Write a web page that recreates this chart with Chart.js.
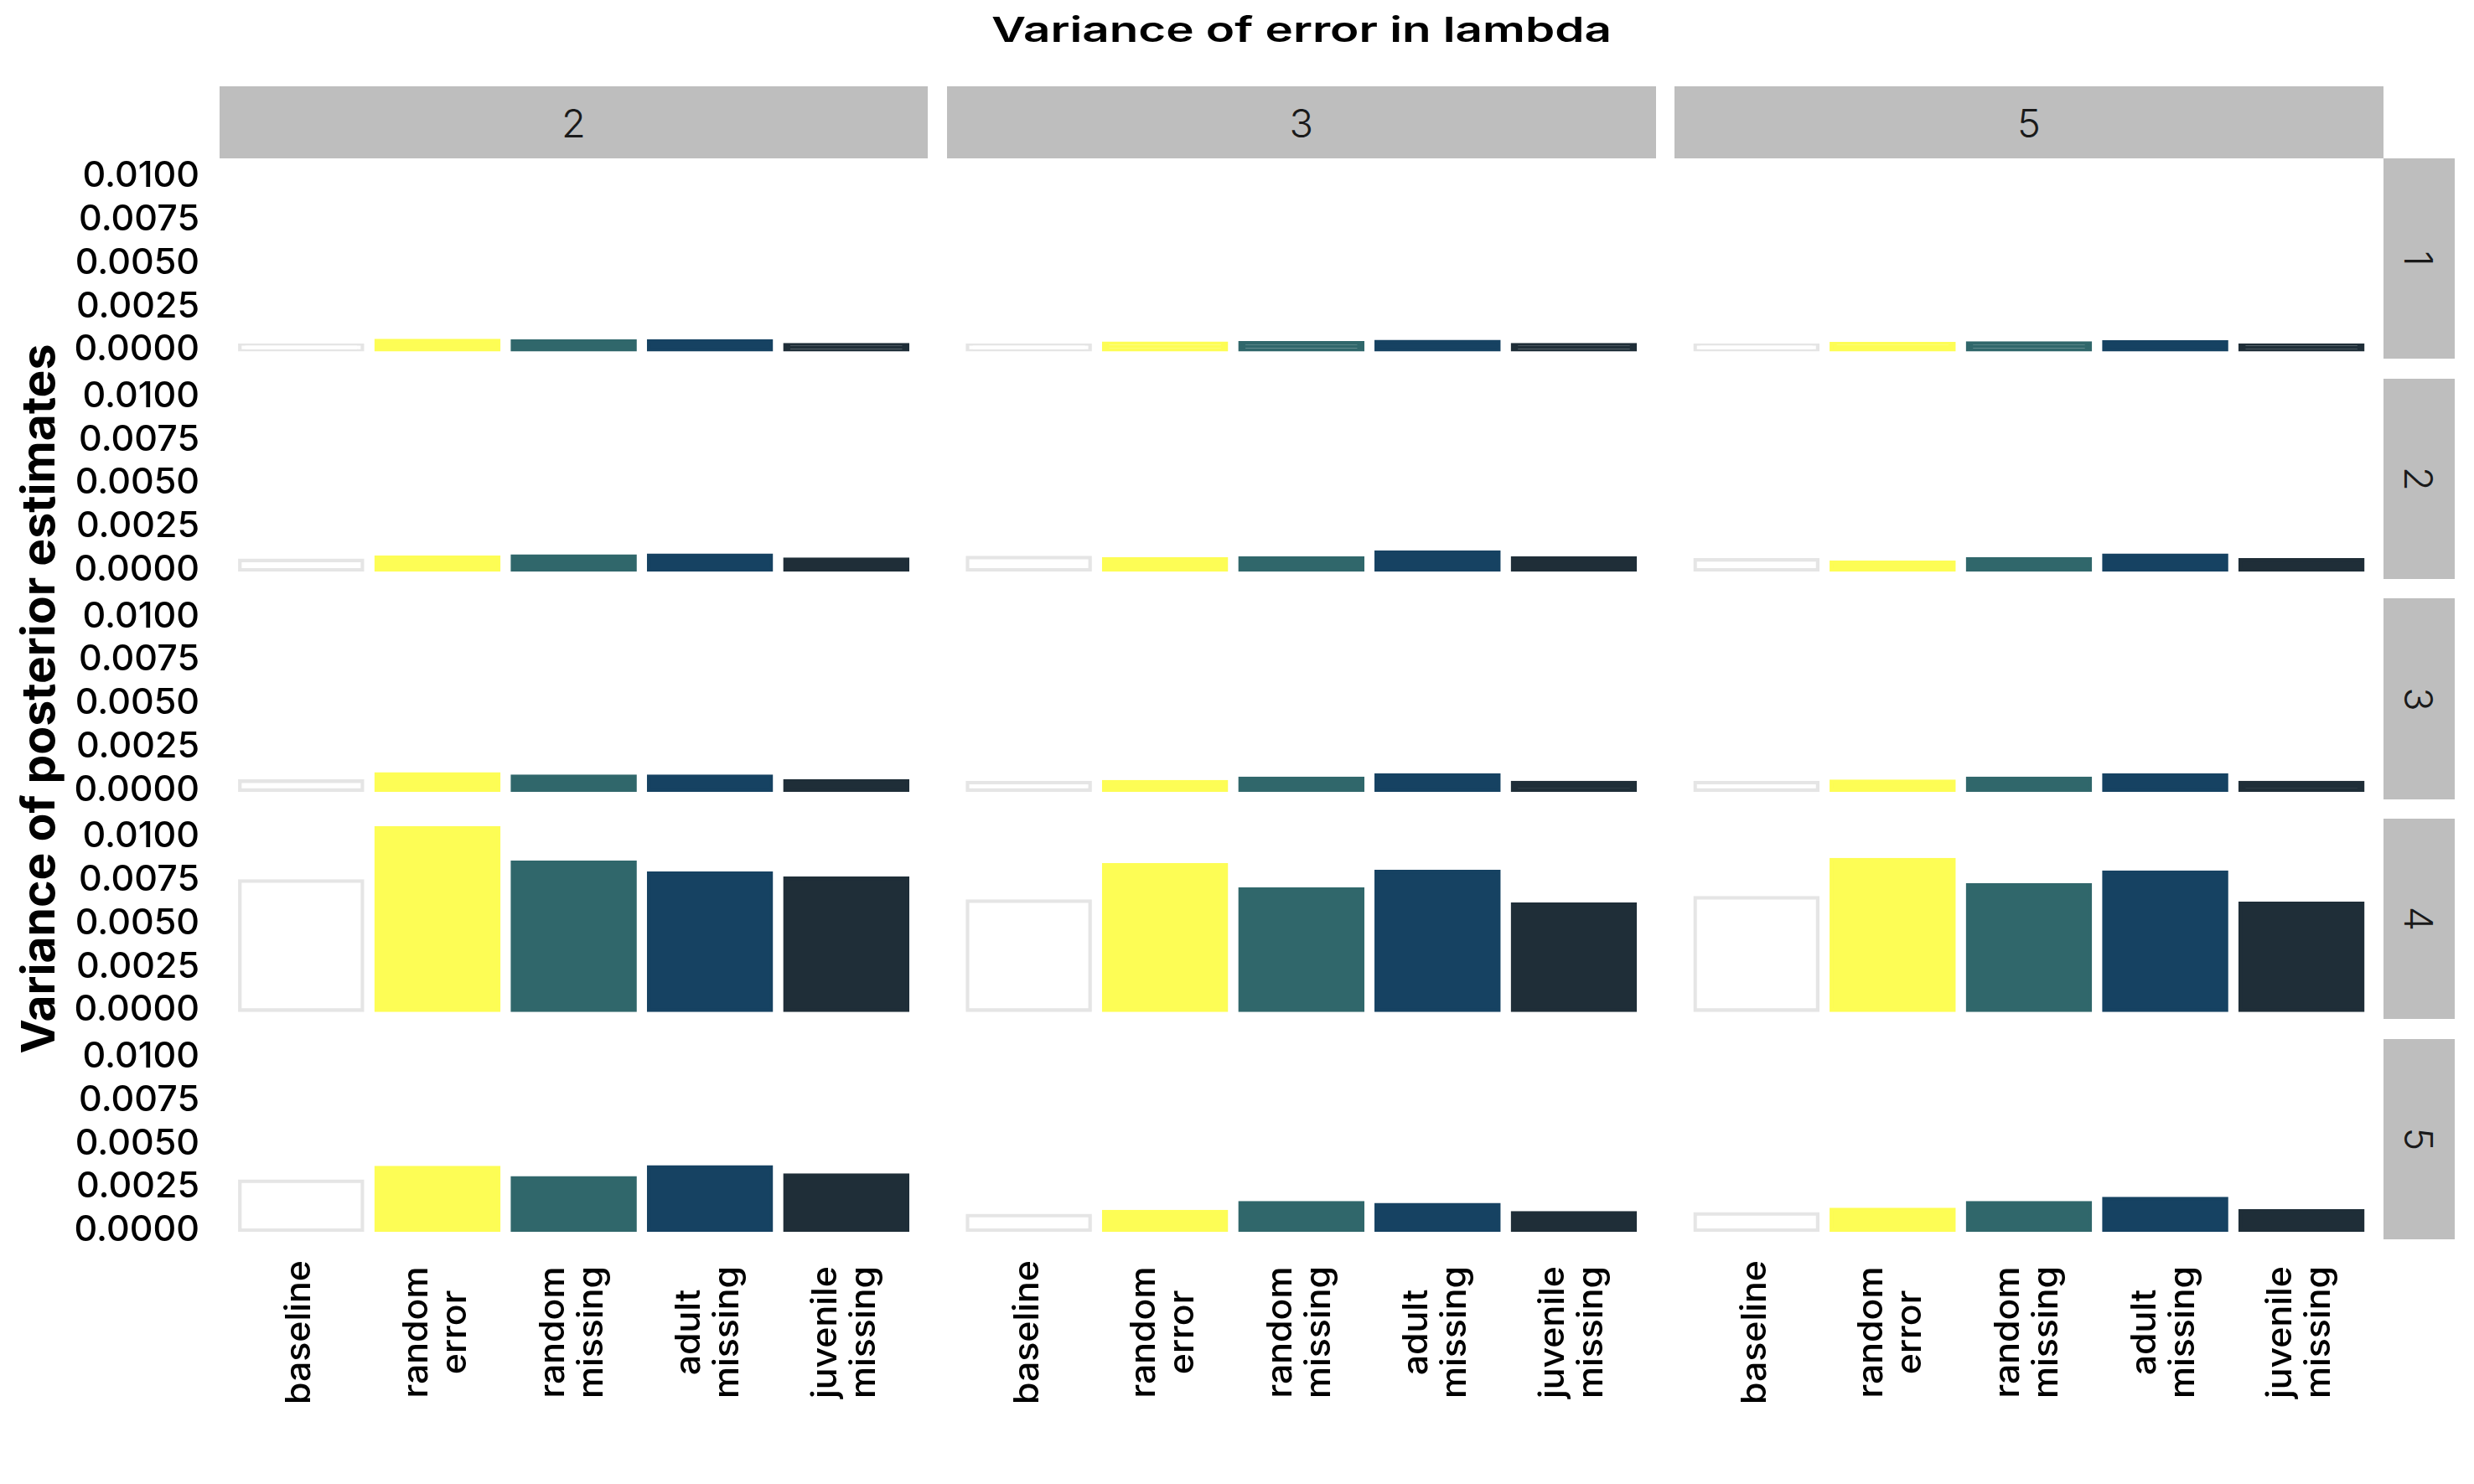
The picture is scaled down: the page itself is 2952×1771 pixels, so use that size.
<!DOCTYPE html>
<html>
<head>
<meta charset="utf-8">
<script src="https://cdn.jsdelivr.net/npm/chart.js@4/dist/chart.umd.min.js"></script>
<style>
html,body{margin:0;padding:0;background:#fff;}
#root{position:relative;width:2952px;height:1771px;overflow:hidden;background:#fff;font-family:Inter,"Noto Sans",sans-serif;}
#root canvas{position:absolute;}
.strip{position:absolute;background:#bebebe;display:flex;align-items:center;justify-content:center;color:#1a1a1a;font-weight:300;line-height:1;}
.txt{position:absolute;white-space:nowrap;line-height:1;color:#000;}
</style>
</head>
<body>
<div id="root"></div>
<script>
// ---------- data ----------
const plotTitle = 'Variance of error in lambda';
const yAxisTitle = 'Variance of posterior estimates';
const categories = ['baseline', 'random error', 'random missing', 'adult missing', 'juvenile missing'];
const categoryLabels = [['baseline'], ['random', 'error'], ['random', 'missing'], ['adult', 'missing'], ['juvenile', 'missing']];
const colFacets = ['2', '3', '5'];
const rowFacets = ['1', '2', '3', '4', '5'];
const yTicks = [0, 0.0025, 0.005, 0.0075, 0.01];

// values indexed [row facet][column facet]
const baseline = [
  [0.00027, 0.00027, 0.00027],
  [0.00055, 0.00071, 0.00058],
  [0.00051, 0.00043, 0.00043],
  [0.00744, 0.00628, 0.00647],
  [0.00283, 0.00085, 0.00095]
];
const randomError = [
  [0.00053, 0.00037, 0.00035],
  [0.00074, 0.00064, 0.00045],
  [0.00093, 0.00048, 0.00050],
  [0.01050, 0.00837, 0.00867],
  [0.00361, 0.00108, 0.00120]
];
const randomMissing = [
  [0.00050, 0.00040, 0.00039],
  [0.00079, 0.00069, 0.00064],
  [0.00079, 0.00067, 0.00067],
  [0.00851, 0.00697, 0.00721],
  [0.00302, 0.00159, 0.00159]
];
const adultMissing = [
  [0.00051, 0.00047, 0.00045],
  [0.00084, 0.00103, 0.00084],
  [0.00079, 0.00087, 0.00087],
  [0.00789, 0.00798, 0.00794],
  [0.00365, 0.00148, 0.00182]
];
const juvenileMissing = [
  [0.00029, 0.00029, 0.00027],
  [0.00061, 0.00069, 0.00058],
  [0.00053, 0.00043, 0.00043],
  [0.00760, 0.00610, 0.00615],
  [0.00318, 0.00100, 0.00111]
];
const seriesValues = [baseline, randomError, randomMissing, adultMissing, juvenileMissing];
const fillColors = ['#ffffff', '#fdfd55', '#30676b', '#164262', '#1f2e38'];
const edgeColors = ['#e5e5e5', '#fdfd55', '#30676b', '#164262', '#1f2e38'];

// ---------- layout ----------
const FONT = 'Inter, "Noto Sans", sans-serif';
const PL = 261.8, PW = 845.5, COLP = 868.2;
const PT = 189, PH = 239.3, ROWP = 262.7;
const STRIP_TOP = 103, STRIP_H = 86, RSTRIP_W = 85.6;
const LW = 4.3;
const TICK_SIZE = 43, XLAB_SIZE = 41, XLAB_LH = 46, XLAB_OFF = 11, XLAB_CY = 1590;
const ASC = 0.8633; // baseline position inside a line-height:1 box (Inter)

const root = document.getElementById('root');
const mctx = document.createElement('canvas').getContext('2d');
function measure(text, weight, size) { mctx.font = weight + ' ' + size + 'px ' + FONT; return mctx.measureText(text).width; }

Chart.defaults.font.family = FONT;

const allVals = seriesValues.flat(2);
const vMax = Math.max(...allVals);
const yMin = -0.05 * vMax, yMax = 1.05 * vMax;

const xlabScale = 172 / measure('baseline', 500, XLAB_SIZE);

function xLabelPlugin(canvasTop) {
  return {
    id: 'xlabels',
    afterDraw(chart) {
      const ctx = chart.ctx, xs = chart.scales.x;
      ctx.save();
      ctx.fillStyle = '#000';
      ctx.font = '500 ' + XLAB_SIZE + 'px ' + FONT;
      ctx.textAlign = 'center';
      ctx.textBaseline = 'alphabetic';
      const cy = XLAB_CY - canvasTop;
      categoryLabels.forEach((lines, i) => {
        const x = xs.getPixelForValue(i + 1);
        lines.forEach((ln, j) => {
          const off = XLAB_OFF + (j - (lines.length - 1) / 2) * XLAB_LH;
          ctx.save();
          ctx.translate(x + off, cy);
          ctx.rotate(-Math.PI / 2);
          ctx.scale(xlabScale, 1);
          ctx.fillText(ln, 0, 0);
          ctx.restore();
        });
      });
      ctx.restore();
    }
  };
}

function makePanel(r, c) {
  const px = PL + c * COLP, py = PT + r * ROWP;
  const left = c === 0 ? 70 : Math.floor(px) - 6;
  const top = Math.floor(py) - 6;
  const right = Math.ceil(px + PW) + 6;
  const bottom = r === rowFacets.length - 1 ? 1771 : Math.ceil(py + PH) + 6;
  const cv = document.createElement('canvas');
  cv.width = right - left; cv.height = bottom - top;
  cv.style.left = left + 'px'; cv.style.top = top + 'px';
  cv.style.width = (right - left) + 'px'; cv.style.height = (bottom - top) + 'px';
  root.appendChild(cv);
  const yAxisW = px - left;
  new Chart(cv, {
    type: 'bar',
    data: {
      datasets: [{
        data: categories.map((k, i) => ({ x: i + 1, y: seriesValues[i][r][c] })),
        backgroundColor: fillColors,
        borderColor: edgeColors,
        borderWidth: LW,
        borderSkipped: false,
        inflateAmount: LW / 2,
        categoryPercentage: 0.9,
        barPercentage: 1
      }]
    },
    options: {
      responsive: false,
      animation: false,
      devicePixelRatio: 1,
      events: [],
      layout: { padding: { left: c === 0 ? 0 : px - left, top: py - top, right: right - (px + PW), bottom: bottom - (py + PH) } },
      plugins: { legend: { display: false }, tooltip: { enabled: false }, title: { display: false } },
      scales: {
        x: {
          type: 'linear', min: 0.4, max: 5.6, offset: false, display: true,
          grid: { display: false, drawTicks: false }, border: { display: false },
          ticks: { display: false, padding: 0 },
          afterBuildTicks: s => { s.ticks = categories.map((k, i) => ({ value: i + 1 })); },
          afterFit: s => { s.height = 0; s.paddingLeft = 0; s.paddingRight = 0; }
        },
        y: {
          type: 'linear', min: yMin, max: yMax, display: c === 0,
          grid: { display: false, drawTicks: false }, border: { display: false },
          ticks: {
            autoSkip: false, color: '#000', padding: 23.8,
            font: { family: FONT, size: TICK_SIZE, weight: '500' },
            callback: v => Number(v).toFixed(4)
          },
          afterBuildTicks: s => { s.ticks = yTicks.map(v => ({ value: v })); },
          afterFit: s => { if (c === 0) s.width = yAxisW; s.paddingTop = 0; s.paddingBottom = 0; }
        }
      }
    },
    plugins: r === rowFacets.length - 1 ? [xLabelPlugin(top)] : []
  });
}

// strips
const STRIP_SIZE = 47;
colFacets.forEach((lab, c) => {
  const d = document.createElement('div');
  d.className = 'strip';
  d.style.left = (PL + c * COLP) + 'px'; d.style.top = STRIP_TOP + 'px';
  d.style.width = PW + 'px'; d.style.height = STRIP_H + 'px';
  d.style.fontSize = STRIP_SIZE + 'px';
  const s = document.createElement('span'); s.textContent = lab; d.appendChild(s);
  root.appendChild(d);
});
rowFacets.forEach((lab, r) => {
  const d = document.createElement('div');
  d.className = 'strip';
  d.style.left = (PL + 2 * COLP + PW) + 'px'; d.style.top = (PT + r * ROWP) + 'px';
  d.style.width = RSTRIP_W + 'px'; d.style.height = PH + 'px';
  d.style.fontSize = STRIP_SIZE + 'px';
  const s = document.createElement('span'); s.textContent = lab;
  s.style.display = 'inline-block'; s.style.transform = 'rotate(90deg)';
  d.appendChild(s);
  root.appendChild(d);
});

// title
(function () {
  const size = 41, w = measure(plotTitle, 600, size);
  const d = document.createElement('div');
  d.className = 'txt'; d.textContent = plotTitle;
  d.style.font = '600 ' + size + 'px ' + FONT; d.style.lineHeight = '1';
  const cx = PL + (2 * COLP + PW) / 2;
  d.style.left = cx + 'px'; d.style.top = (50 - ASC * size) + 'px';
  d.style.transform = 'translateX(-50%) scaleX(' + (740 / w) + ')';
  root.appendChild(d);
})();

// y axis title
(function () {
  const size = 55, w = measure(yAxisTitle, 700, size);
  const d = document.createElement('div');
  d.className = 'txt'; d.textContent = yAxisTitle;
  d.style.font = '700 ' + size + 'px ' + FONT; d.style.lineHeight = '1';
  const cy = PT + (4 * ROWP + PH) / 2;
  const cx = 65 - (ASC - 0.5) * size;
  d.style.left = cx + 'px'; d.style.top = cy + 'px';
  d.style.transform = 'translate(-50%,-50%) rotate(-90deg) scaleX(' + (847 / w) + ')';
  root.appendChild(d);
})();

for (let r = 0; r < rowFacets.length; r++) for (let c = 0; c < colFacets.length; c++) makePanel(r, c);
</script>
</body>
</html>
